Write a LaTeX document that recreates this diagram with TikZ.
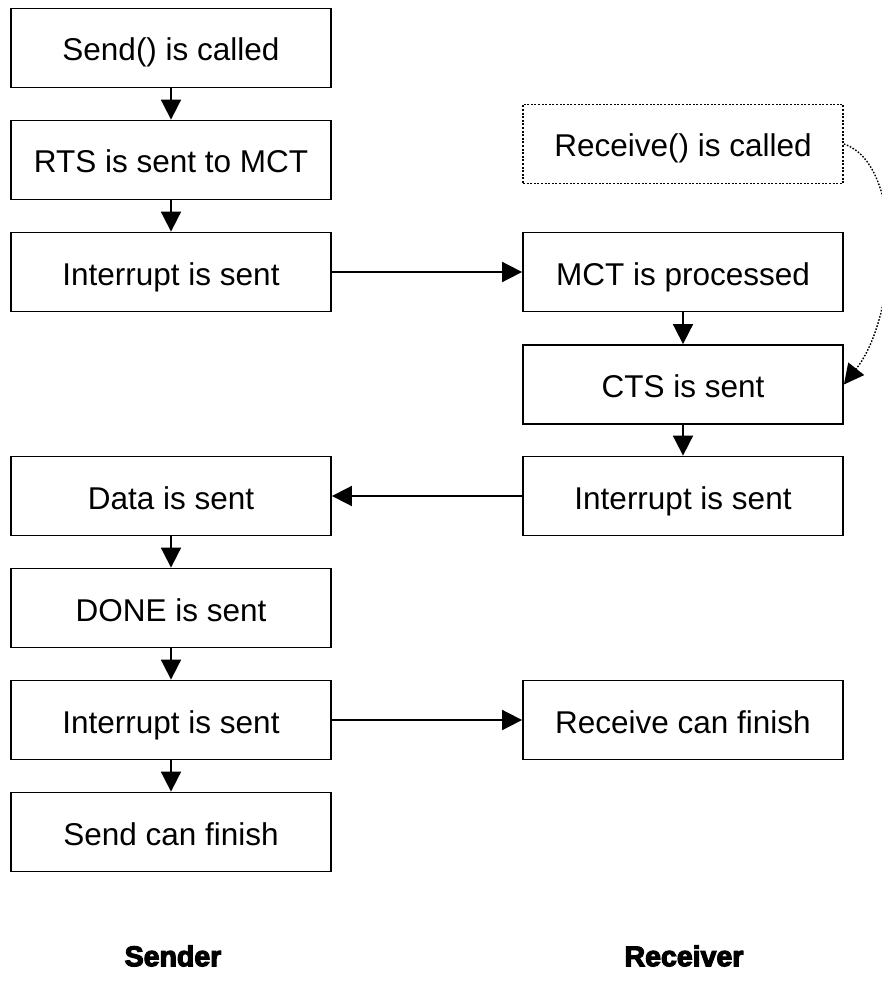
\documentclass[tikz,border=0pt]{standalone}
\usepackage{fontspec}
\setmainfont{Liberation Sans}
\newfontfamily\heavyfont[FakeBold=4]{Liberation Sans Bold}
\usetikzlibrary{arrows.meta}
\begin{document}
\begin{tikzpicture}[x=1pt,y=-1pt,
  box/.style={draw, line width=1.8pt, minimum width=320pt, minimum height=79pt, inner sep=0pt, text height=26pt, text depth=0pt, font=\fontsize{31.5}{36}\selectfont},
  dotbox/.style={box, dash pattern=on 2pt off 1.6pt, line width=1.8pt},
  conn/.style={line width=1.8pt, -{Triangle[length=20pt,width=20pt]}},
  dconn/.style={line width=1.4pt, dash pattern=on 1.6pt off 1.6pt, -{Triangle[length=20pt,width=20pt]}},
  lab/.style={font=\heavyfont\fontsize{28.5}{32}\selectfont}]
\useasboundingbox (0,0) rectangle (881,995);
% Sender column
\node[box] (s1) at (171,48) {Send() is called};
\node[box] (s2) at (171,160) {RTS is sent to MCT};
\node[box] (s3) at (171,272) {Interrupt is sent};
\node[box] (s4) at (171,496) {Data is sent};
\node[box] (s5) at (171,608) {DONE is sent};
\node[box] (s6) at (171,720) {Interrupt is sent};
\node[box] (s7) at (171,832) {Send can finish};
% Receiver column
\node[dotbox] (r0) at (683,144) {Receive() is called};
\node[box] (r1) at (683,272) {MCT is processed};
\node[box] (r2) at (683,384.5) {CTS is sent};
\node[box] (r3) at (683,496) {Interrupt is sent};
\node[box] (r4) at (683,720) {Receive can finish};
% labels
\node[lab] (ls) at (173,956) {Sender};
\node[lab] (lr) at (684,956) {Receiver};
% connectors
\draw[conn] (s1) -- (s2);
\draw[conn] (s2) -- (s3);
\draw[conn] (s4) -- (s5);
\draw[conn] (s5) -- (s6);
\draw[conn] (s6) -- (s7);
\draw[conn] (r1) -- (r2);
\draw[conn] (r2) -- (r3);
\draw[conn] (s3) -- (r1);
\draw[conn] (r3) -- (s4);
\draw[conn] (s6) -- (r4);
\draw[dconn] (r0.east) .. controls +(60,20) and +(55,-70) .. (r2.east);
\end{tikzpicture}
\end{document}
